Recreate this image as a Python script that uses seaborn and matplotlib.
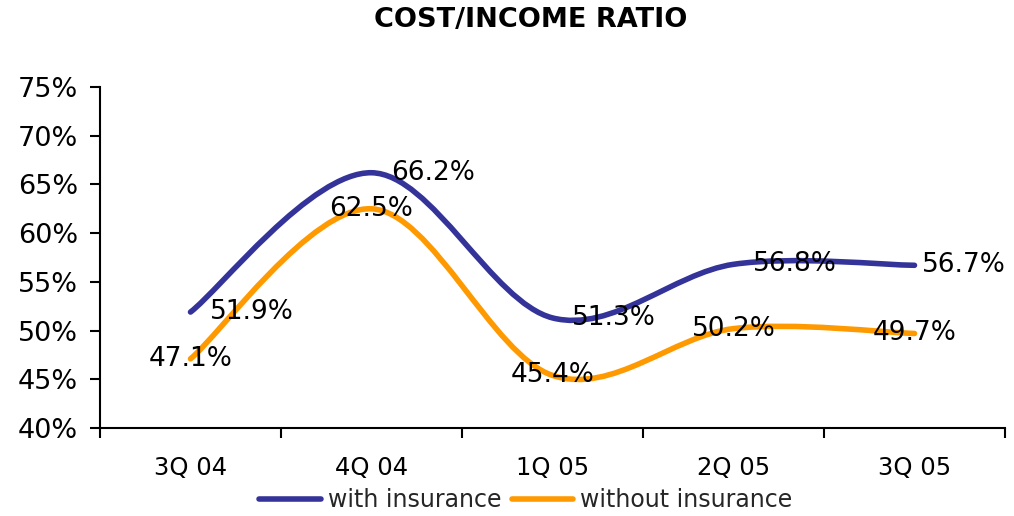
import numpy as np
import pandas as pd
import matplotlib
matplotlib.use("Agg")
import matplotlib.pyplot as plt
from matplotlib.path import Path
from matplotlib.patches import PathPatch
from matplotlib.lines import Line2D
import seaborn as sns

# ---- data ----
quarters = ["3Q 04", "4Q 04", "1Q 05", "2Q 05", "3Q 05"]
with_insurance = [51.9, 66.2, 51.3, 56.8, 56.7]
without_insurance = [47.1, 62.5, 45.4, 50.2, 49.7]
series_names = ["with insurance", "without insurance"]
y_ticks = [40, 45, 50, 55, 60, 65, 70, 75]

colors = {"with insurance": "#333399", "without insurance": "#FF9900"}

df = pd.DataFrame({
    "quarter": quarters * 2,
    "value": with_insurance + without_insurance,
    "series": [series_names[0]] * len(quarters) + [series_names[1]] * len(quarters),
})

sns.set_theme(style="white")
plt.rcParams["font.family"] = ["DejaVu Sans"]

fig = plt.figure(figsize=(10.14, 5.16), dpi=100)
ax = fig.add_axes([100 / 1014, 88 / 516, 905 / 1014, 341 / 516])

LW = 4.0
sns.lineplot(data=df, x="quarter", y="value", hue="series", palette=colors,
             sort=False, legend=False, ax=ax, linewidth=LW)


def smooth_path(xs, ys):
    pts = np.column_stack([xs, ys]).astype(float)
    n = len(pts)
    verts = [pts[0]]
    codes = [Path.MOVETO]
    for i in range(n - 1):
        p0 = pts[i - 1] if i > 0 else pts[i]
        p1 = pts[i]
        p2 = pts[i + 1]
        p3 = pts[i + 2] if i + 2 < n else pts[i + 1]
        c1 = p1 + (p2 - p0) / 6.0
        c2 = p2 - (p3 - p1) / 6.0
        verts += [c1, c2, p2]
        codes += [Path.CURVE4] * 3
    return Path(verts, codes)


# replace straight seaborn segments with smoothed curves (Excel-like smoothing)
for line in list(ax.lines):
    xd, yd = line.get_xdata(), line.get_ydata()
    col = line.get_color()
    line.set_visible(False)
    patch = PathPatch(smooth_path(xd, yd), fill=False, edgecolor=col,
                      linewidth=LW, capstyle="round", joinstyle="round", zorder=3)
    ax.add_patch(patch)

ax.set_xlim(-0.5, len(quarters) - 0.5)
ax.set_ylim(40, 75)
ax.set_yticks(y_ticks)
ax.set_yticklabels([f"{v}%" for v in y_ticks])
ax.set_xticks(range(len(quarters)))
ax.set_xticklabels(quarters)
ax.set_xticks(np.arange(-0.5, len(quarters), 1.0), minor=True)
ax.set_xlabel("")
ax.set_ylabel("")

ax.tick_params(axis="x", which="major", length=0, pad=20, labelsize=17.5, colors="black")
ax.tick_params(axis="x", which="minor", length=7, width=1.5, direction="out",
               color="black", bottom=True)
ax.tick_params(axis="y", which="major", length=7, width=1.5, direction="out",
               pad=9, labelsize=19.5, colors="black", left=True)

for side in ["top", "right"]:
    ax.spines[side].set_visible(False)
for side in ["left", "bottom"]:
    ax.spines[side].set_color("black")
    ax.spines[side].set_linewidth(1.5)
ax.grid(False)

# data labels
for i, v in enumerate(with_insurance):
    dx = 5 if i == len(with_insurance) - 1 else 14
    ax.annotate(f"{v}%", (i, v), xytext=(dx, 0), textcoords="offset points",
                ha="left", va="center", fontsize=19, color="black", zorder=5)
for i, v in enumerate(without_insurance):
    ax.annotate(f"{v}%", (i, v), xytext=(0, 0), textcoords="offset points",
                ha="center", va="center", fontsize=19, color="black", zorder=5)

fig.text(531 / 1014, 1 - 20 / 516, "COST/INCOME RATIO", ha="center", va="center",
         fontsize=19.5, fontweight="bold", color="black")

handles = [Line2D([0], [0], color=colors[s], linewidth=LW, solid_capstyle="round")
           for s in series_names]
fig.legend(handles, series_names, loc="center", bbox_to_anchor=(526 / 1014, 1 - 500 / 516),
           ncol=2, frameon=False, fontsize=17, handlelength=2.6, handletextpad=0.3,
           columnspacing=0.45, borderpad=0, borderaxespad=0)

fig.savefig("out.png", dpi=100, facecolor="white")
